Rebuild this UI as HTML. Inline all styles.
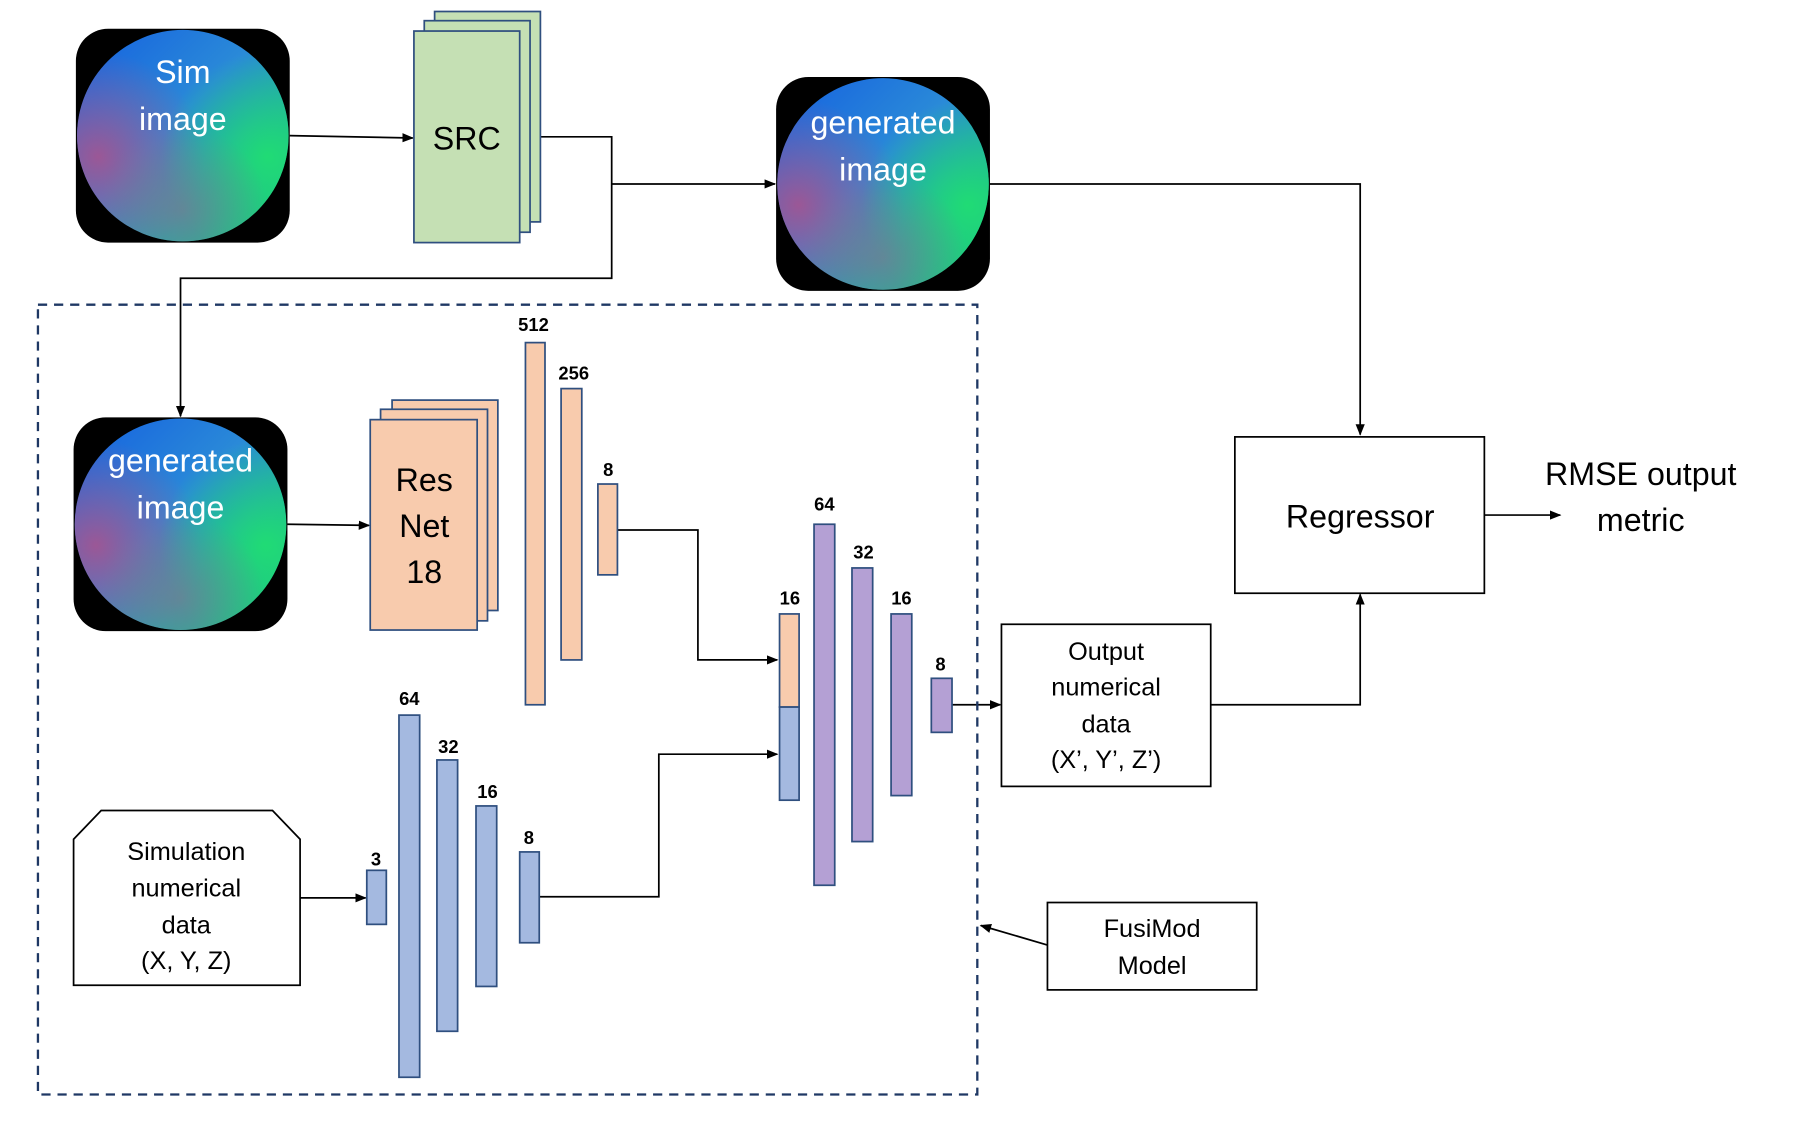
<!DOCTYPE html>
<html><head><meta charset="utf-8"><style>html,body{margin:0;padding:0;background:#fff}svg{display:block}text{font-family:"Liberation Sans",sans-serif}</style></head><body>
<svg width="1804" height="1129" viewBox="0 0 1569 982" preserveAspectRatio="none" xmlns="http://www.w3.org/2000/svg">
<defs>
<linearGradient id="g1" x1="0" y1="0" x2="1" y2="1"><stop offset="0" stop-color="#1560e0"/><stop offset="0.45" stop-color="#2a8ad8"/><stop offset="1" stop-color="#18d070"/></linearGradient>
<radialGradient id="g2" cx="0.1" cy="0.6" r="0.5"><stop offset="0" stop-color="#b0508a" stop-opacity="0.85"/><stop offset="1" stop-color="#b0508a" stop-opacity="0"/></radialGradient>
<radialGradient id="g3" cx="0.9" cy="0.6" r="0.5"><stop offset="0" stop-color="#20e070" stop-opacity="0.9"/><stop offset="1" stop-color="#20e070" stop-opacity="0"/></radialGradient>
<radialGradient id="g4" cx="0.5" cy="0.85" r="0.4"><stop offset="0" stop-color="#7a7a90" stop-opacity="0.7"/><stop offset="1" stop-color="#7a7a90" stop-opacity="0"/></radialGradient>
<marker id="a" markerWidth="10" markerHeight="10" refX="9" refY="5" orient="auto" markerUnits="userSpaceOnUse"><path d="M0,1 L10,5 L0,9 z" fill="#000"/></marker>
<g id="disc"><circle r="92" fill="url(#g1)"/><circle r="92" fill="url(#g2)"/><circle r="92" fill="url(#g3)"/><circle r="92" fill="url(#g4)"/></g>
</defs>
<g stroke="#000" stroke-width="1.5" fill="none">
<line x1="252" y1="118" x2="359" y2="120" marker-end="url(#a)"/>
<polyline points="470,119 532,119 532,242 157,242 157,362" marker-end="url(#a)"/>
<line x1="532" y1="160" x2="674" y2="160" marker-end="url(#a)"/>
<polyline points="861,160 1183,160 1183,378" marker-end="url(#a)"/>
<line x1="250" y1="456" x2="321" y2="457" marker-end="url(#a)"/>
<polyline points="537,461 607,461 607,574 676,574" marker-end="url(#a)"/>
<polyline points="469,780 573,780 573,656 676,656" marker-end="url(#a)"/>
<line x1="261" y1="781" x2="318" y2="781" marker-end="url(#a)"/>
<line x1="828" y1="613" x2="870" y2="613" marker-end="url(#a)"/>
<polyline points="1053,613 1183,613 1183,517" marker-end="url(#a)"/>
<line x1="1291" y1="448" x2="1357" y2="448" marker-end="url(#a)"/>
<line x1="911" y1="822" x2="853" y2="805" marker-end="url(#a)"/>
</g>
<rect x="33" y="265" width="817" height="687" fill="none" stroke="#1f3864" stroke-width="2" stroke-dasharray="8,6"/>
<rect x="66" y="25" width="186" height="186" rx="28" fill="#000"/><use href="#disc" x="159" y="118"/>
<rect x="675" y="67" width="186" height="186" rx="28" fill="#000"/><use href="#disc" x="768" y="160"/>
<rect x="64" y="363" width="186" height="186" rx="28" fill="#000"/><use href="#disc" x="157" y="456"/>
<g fill="#fff" font-size="28" text-anchor="middle">
<text x="159" y="72">Sim</text><text x="159" y="113">image</text>
<text x="768" y="116">generated</text><text x="768" y="157">image</text>
<text x="157" y="410">generated</text><text x="157" y="451">image</text>
</g>
<g fill="#c5e0b4" stroke="#2f4f7f" stroke-width="1.5">
<rect x="378" y="10" width="92" height="183"/><rect x="369" y="18" width="92" height="184"/><rect x="360" y="27" width="92" height="184"/>
</g>
<text x="406" y="130" font-size="28" text-anchor="middle">SRC</text>
<g fill="#f8cbad" stroke="#2f4f7f" stroke-width="1.5">
<rect x="341" y="348" width="92" height="183"/><rect x="331" y="356" width="93" height="184"/><rect x="322" y="365" width="93" height="183"/>
<rect x="457" y="298" width="17" height="315"/><rect x="488" y="338" width="18" height="236"/><rect x="520" y="421" width="17" height="79"/>
<rect x="678" y="534" width="17" height="81"/>
</g>
<g font-size="28" text-anchor="middle"><text x="369" y="427">Res</text><text x="369" y="467">Net</text><text x="369" y="507">18</text></g>
<g fill="#a4b9e0" stroke="#2f4f7f" stroke-width="1.5">
<rect x="678" y="615" width="17" height="81"/>
<rect x="347" y="622" width="18" height="315"/><rect x="380" y="661" width="18" height="236"/><rect x="414" y="701" width="18" height="157"/><rect x="452" y="741" width="17" height="79"/><rect x="319" y="757" width="17" height="47"/>
</g>
<g fill="#b4a0d4" stroke="#2f4f7f" stroke-width="1.5">
<rect x="708" y="456" width="18" height="314"/><rect x="741" y="494" width="18" height="238"/><rect x="775" y="534" width="18" height="158"/><rect x="810" y="590" width="18" height="47"/>
</g>
<g font-size="16" font-weight="bold" text-anchor="middle">
<text x="464" y="288">512</text><text x="499" y="330">256</text><text x="529" y="414">8</text>
<text x="687" y="526">16</text><text x="717" y="444">64</text><text x="751" y="486">32</text><text x="784" y="526">16</text><text x="818" y="583">8</text>
<text x="356" y="613">64</text><text x="390" y="655">32</text><text x="424" y="694">16</text><text x="460" y="734">8</text><text x="327" y="753">3</text>
</g>
<g fill="#fff" stroke="#000" stroke-width="1.5">
<rect x="871" y="543" width="182" height="141"/>
<rect x="1074" y="380" width="217" height="136"/>
<rect x="911" y="785" width="182" height="76"/>
<polygon points="64,730 88,705 237,705 261,730 261,857 64,857"/>
</g>
<g font-size="22" text-anchor="middle">
<text x="962" y="574">Output</text><text x="962" y="605">numerical</text><text x="962" y="637">data</text><text x="962" y="668">(X’, Y’, Z’)</text>
<text x="1002" y="815">FusiMod</text><text x="1002" y="847">Model</text>
<text x="162" y="748">Simulation</text><text x="162" y="780">numerical</text><text x="162" y="812">data</text><text x="162" y="843">(X, Y, Z)</text>
</g>
<g font-size="28" text-anchor="middle">
<text x="1183" y="459">Regressor</text>
<text x="1427" y="422">RMSE output</text><text x="1427" y="462">metric</text>
</g>
</svg>
</body></html>
